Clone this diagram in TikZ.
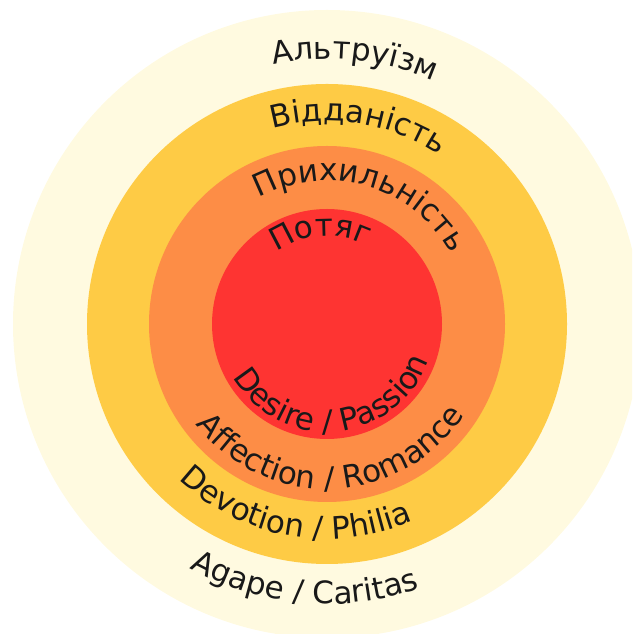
\documentclass[tikz,border=0pt]{standalone}
\usepackage{fontspec}
\setmainfont{DejaVu Sans}
\usepackage{xcolor}
\usetikzlibrary{decorations.text}
\definecolor{colAgape}{RGB}{255,250,224}
\definecolor{colDevotion}{RGB}{254,203,69}
\definecolor{colAffection}{RGB}{253,141,70}
\definecolor{colDesire}{RGB}{254,52,50}
\definecolor{colLabel}{RGB}{25,25,25}
\newcommand{\ringfont}{\fontsize{31}{34}\selectfont}

\begin{document}
\begin{tikzpicture}[
  x=1pt, y=1pt,
  ring/.style={fill=#1},
  uptext/.style={decorate, decoration={text along path, text align=center,
                 text color=colLabel, text={|\ringfont|#1}}},
  downtext/.style={decorate, decoration={text along path, text align=center,
                 text color=colLabel, text={|\ringfont|#1}}},
]
\useasboundingbox (0,0) rectangle (632,634);
\clip (0,0) rectangle (632,634);
\coordinate (c) at (327,310);

% ─── RINGS ────────────────────────────────────────────────────────────────────
\fill[ring=colAgape]     (c) circle[radius=314];
\fill[ring=colDevotion]  (c) circle[radius=240];
\fill[ring=colAffection] (c) circle[radius=178];
\fill[ring=colDesire]    (c) circle[radius=115];

% ─── UPPER LABELS ─────────────────────────────────────────────────────────────
\path[uptext={Альтруїзм}]    ([shift={(c)}]144:265) arc[start angle=144, end angle=24, radius=265];
\path[uptext={Відданість}]   ([shift={(c)}]141:203) arc[start angle=141, end angle=21, radius=203];
\path[uptext={Прихильність}] ([shift={(c)}]154:143) arc[start angle=154, end angle=-6, radius=143];
\path[uptext={Потяг}]        ([shift={(c)}]174:88)  arc[start angle=174, end angle=14, radius=88];

% ─── LOWER LABELS ─────────────────────────────────────────────────────────────
\path[downtext={Desire / Passion}]    ([shift={(c)}]195:108) arc[start angle=195, end angle=355, radius=108];
\path[downtext={Affection / Romance}] ([shift={(c)}]192:165) arc[start angle=192, end angle=352, radius=165];
\path[downtext={Devotion / Philia}]   ([shift={(c)}]200:215) arc[start angle=200, end angle=320, radius=215];
\path[downtext={Agape / Caritas}]     ([shift={(c)}]205:280) arc[start angle=205, end angle=325, radius=280];

\end{tikzpicture}
\end{document}
